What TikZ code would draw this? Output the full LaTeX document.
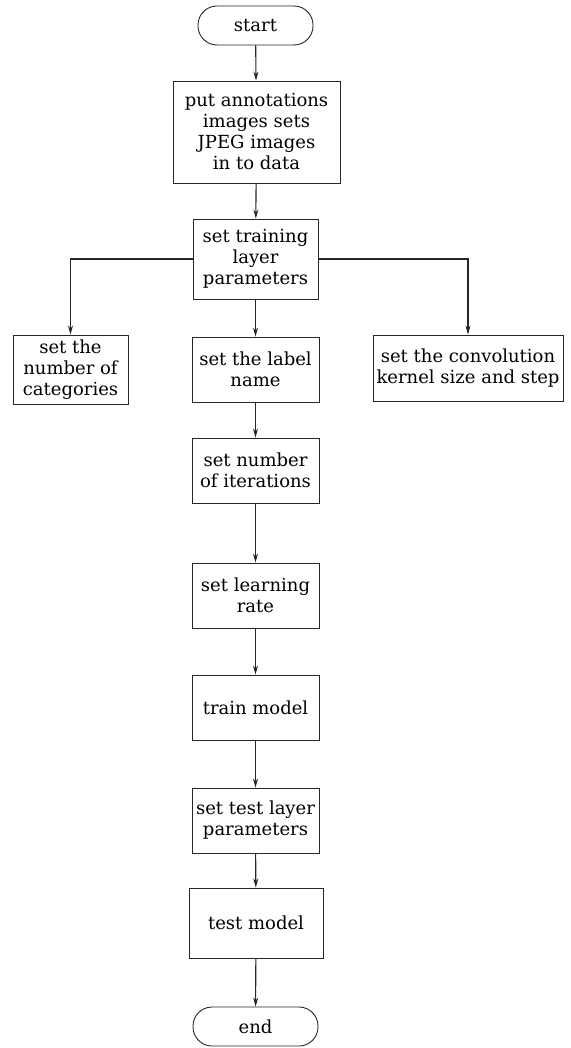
\documentclass[tikz,border=0pt]{standalone}
\usepackage{fontspec}
\setmainfont{DejaVu Serif}
\usetikzlibrary{arrows.meta}
\begin{document}
\begin{tikzpicture}[x=1pt,y=-1pt,
  every node/.style={font=\fontsize{18}{21}\selectfont, align=center, inner sep=0pt, draw=black!85, line width=0.9pt},
  box/.style={rectangle, minimum width=#1},
  term/.style={rectangle, rounded corners=19pt, minimum width=#1, minimum height=39pt},
  conn/.style={draw=black!85, line width=1.1pt, -{Stealth[length=9pt,width=5pt]}}]
\useasboundingbox (0,0) rectangle (570,1048);
\node[term=115] (start) at (255.5,25.5) {start};
\node[box=167, minimum height=102] (put) at (256.5,132) {put annotations\\images sets\\JPEG images\\in to data};
\node[box=125, minimum height=80] (train) at (255.5,259) {set training\\layer\\parameters};
\node[box=115, minimum height=69] (cat) at (70.5,369.5) {set the\\number of\\categories};
\node[box=127, minimum height=65] (label) at (255.5,369.5) {set the label\\name};
\node[box=190, minimum height=66] (kern) at (468,368) {set the convolution\\kernel size and step};
\node[box=127, minimum height=65] (iter) at (255.5,470.5) {set number\\of iterations};
\node[box=127, minimum height=65] (lr) at (255.5,595.5) {set learning\\rate};
\node[box=127, minimum height=65] (tm) at (255.5,707.5) {train model};
\node[box=127, minimum height=65] (tl) at (255.5,820.5) {set test layer\\parameters};
\node[box=134, minimum height=70] (test) at (256,923) {test model};
\node[term=125] (end) at (255.5,1026.5) {end};
\draw[conn] (start) -- (put);
\draw[conn] (put) -- (train);
\draw[conn] (train.west) -| (cat.north);
\draw[conn] (train.east) -| (kern.north);
\draw[conn] (train) -- (label);
\draw[conn] (label) -- (iter);
\draw[conn] (iter) -- (lr);
\draw[conn] (lr) -- (tm);
\draw[conn] (tm) -- (tl);
\draw[conn] (tl) -- (test);
\draw[conn] (test) -- (end);
\end{tikzpicture}
\end{document}
